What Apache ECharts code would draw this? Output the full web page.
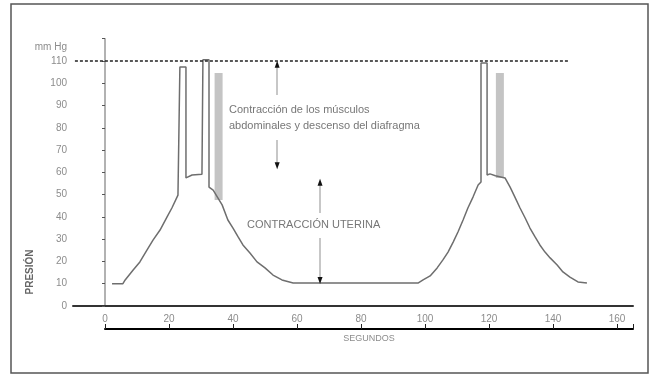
<!DOCTYPE html>
<html>
<head>
<meta charset="utf-8">
<script src="https://cdn.jsdelivr.net/npm/echarts@6/dist/echarts.min.js"></script>
<style>
  html, body { margin: 0; padding: 0; background: #fff; }
  #chart { width: 659px; height: 374px; }
</style>
</head>
<body>
<div id="chart"></div>
<script>
// pressure trace (seconds, mm Hg)
const pressureCurve = [
  [2.2, 10], [5.6, 10], [6.3, 11.7], [8.8, 16.2], [10.9, 19.8], [13.1, 25.1],
  [15, 29.6], [17.2, 34.1], [19.4, 40], [20.9, 44], [22.8, 49.8],
  [23.4, 50.6], [23.4, 107.3], [25.3, 107.3], [25.3, 57.5], [27.2, 58.8],
  [30.3, 59.2], [30.6, 59.2], [30.6, 110.5], [32.5, 110.5], [32.5, 53.4],
  [33.8, 52], [36.6, 45.4], [38.4, 38.6], [40, 35], [41.6, 31], [43.1, 27.4],
  [45.3, 23.8], [47.5, 19.8], [50, 17.1], [52.5, 13.9], [55.3, 11.7],
  [58.8, 10.3], [97.8, 10.3], [99.4, 11.7], [101.6, 13.5], [103.8, 17.1],
  [105.6, 20.7], [107.2, 24.2], [108.8, 28.7], [110.3, 33.2], [111.9, 38.6],
  [113.4, 44], [115, 48.9], [116.6, 54.3], [117.5, 55.7], [117.5, 109.1],
  [119.4, 109.1], [119.4, 58.8], [120.3, 59.3], [122, 58.5], [125, 57.5],
  [126.6, 53.4], [128.1, 48.9], [129.7, 44], [131.3, 39.5], [132.8, 35],
  [134.4, 31], [135.9, 27.4], [137.5, 24.2], [139.1, 21.6], [141.3, 18.4],
  [143.1, 15.3], [145.3, 13], [147.8, 10.8], [150.6, 10.3]
];
const bandLeft = [[35.5, 104.6], [35.5, 47.6]];
const bandRight = [[123.4, 104.6], [123.4, 57.5]];
const maxLine = [[-9.4, 110], [145, 110]];
// annotation arrows: [x, from, to]
const arrows = [
  [53.8, 94.7, 108.5], [53.8, 74.5, 63],
  [67.2, 41.8, 55.5], [67.2, 30.5, 11.5]
];
const xTicks = [0, 20, 40, 60, 80, 100, 120, 140, 160];

const chart = echarts.init(document.getElementById('chart'));
const font = 'Liberation Sans, Arial, sans-serif';
const labelGray = '#8c8c8c';

chart.setOption({
  animation: false,
  grid: [
    { left: 73, right: 26, top: 38.7, bottom: 68 },
    { left: 105, right: 26, top: 300, bottom: 45 }
  ],
  xAxis: [
    {
      gridIndex: 0, type: 'value', min: -10, max: 165,
      axisLine: { lineStyle: { color: '#333', width: 2 } },
      axisTick: { show: false }, axisLabel: { show: false },
      splitLine: { show: false }
    },
    {
      gridIndex: 1, type: 'value', min: 0, max: 165, interval: 20,
      axisLine: { lineStyle: { color: '#000', width: 2 } },
      axisTick: { inside: true, length: 5, lineStyle: { color: '#222' } },
      axisLabel: {
        inside: true, margin: 5, fontSize: 10, color: labelGray, fontFamily: font,
        formatter: v => (xTicks.indexOf(v) >= 0 ? String(v) : '')
      },
      splitLine: { show: false },
      name: 'SEGUNDOS', nameLocation: 'middle', nameGap: 5,
      nameTextStyle: { fontSize: 9, color: labelGray, fontFamily: font }
    }
  ],
  yAxis: [
    {
      gridIndex: 0, type: 'value', min: 0, max: 120, interval: 10,
      axisLine: { show: true, lineStyle: { color: '#999', width: 1.5 } },
      axisTick: { show: true, length: 3, lineStyle: { color: '#555' } },
      axisLabel: {
        margin: 6, fontSize: 10, color: labelGray, fontFamily: font,
        formatter: v => (v === 120 ? '' : String(v))
      },
      splitLine: { show: false }
    },
    { gridIndex: 1, type: 'value', show: false }
  ],
  series: [
    {
      type: 'line', data: bandLeft, xAxisIndex: 0, yAxisIndex: 0, symbol: 'none',
      lineStyle: { color: '#c4c4c4', width: 8 }
    },
    {
      type: 'line', data: bandRight, xAxisIndex: 0, yAxisIndex: 0, symbol: 'none',
      lineStyle: { color: '#c4c4c4', width: 8 }
    },
    {
      type: 'line', data: pressureCurve, xAxisIndex: 0, yAxisIndex: 0, symbol: 'none',
      lineStyle: { color: '#6e6e6e', width: 1.5 }
    },
    {
      type: 'line', data: maxLine, xAxisIndex: 0, yAxisIndex: 0, symbol: 'none',
      lineStyle: { color: '#222', width: 1.5, type: [3, 2] },
      markLine: {
        silent: true, symbol: 'none',
        label: { show: false },
        lineStyle: { color: '#b4b4b4', width: 1.5, type: 'solid' },
        data: arrows.map(a => [{ coord: [a[0], a[1]] }, { coord: [a[0], a[2]] }])
      },
      markPoint: {
        silent: true, symbol: 'triangle', symbolSize: [5, 7],
        itemStyle: { color: '#111' }, label: { show: false },
        data: arrows.map(a => ({ coord: [a[0], a[2]], symbolRotate: a[2] > a[1] ? 0 : 180 }))
      }
    }
  ],
  graphic: [
    {
      type: 'rect', shape: { x: 11, y: 4, width: 637, height: 369 },
      style: { fill: 'none', stroke: '#555', lineWidth: 1.5 }, silent: true
    },
    {
      type: 'text', x: 67, y: 47,
      style: { text: 'mm Hg', fill: labelGray, font: '10px ' + font, align: 'right', verticalAlign: 'middle' }
    },
    {
      type: 'text', left: 229, top: 104,
      style: { text: 'Contracción de los músculos', fill: '#777', font: '11px ' + font }
    },
    {
      type: 'text', left: 229, top: 120,
      style: { text: 'abdominales y descenso del diafragma', fill: '#777', font: '11px ' + font }
    },
    {
      type: 'text', left: 247, top: 219,
      style: { text: 'CONTRACCIÓN UTERINA', fill: '#777', font: '11px ' + font }
    },
    {
      type: 'text', x: 30, y: 272, rotation: Math.PI / 2,
      style: { text: 'PRESIÓN', fill: '#666', font: 'bold 10px ' + font, align: 'center', verticalAlign: 'middle' }
    }
  ]
});
</script>
</body>
</html>
